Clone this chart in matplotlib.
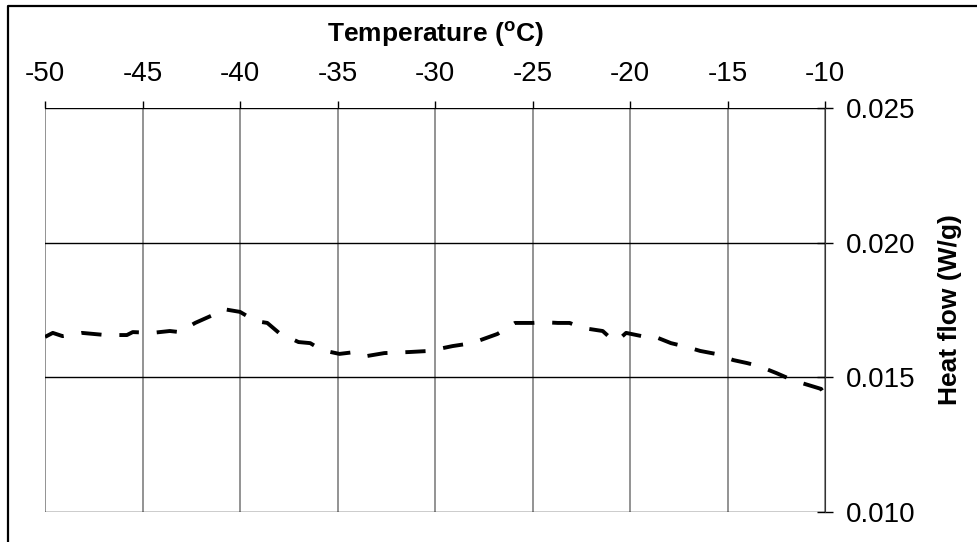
import matplotlib.pyplot as plt
from matplotlib.lines import Line2D

plt.rcParams['font.family'] = ['Liberation Sans', 'DejaVu Sans']
plt.rcParams['mathtext.fontset'] = 'custom'
plt.rcParams['mathtext.rm'] = 'Liberation Sans'
plt.rcParams['mathtext.bf'] = 'Liberation Sans:bold'
plt.rcParams['axes.unicode_minus'] = False

# DSC trace
temp = [-50.0, -49.6, -49.1, -48.1, -46.9, -45.8, -45.5, -44.5, -43.6, -43.1,
        -42.3, -41.4, -40.9, -40.0, -39.2, -38.6, -38.0, -37.0, -36.4, -35.8,
        -34.9, -34.1, -33.5, -32.6, -31.3, -30.3, -29.1, -28.1, -26.8, -25.9,
        -25.0, -24.5, -23.7, -23.1, -22.4, -21.4, -20.9, -20.6, -20.2, -19.2,
        -18.8, -17.9, -17.1, -16.4, -15.6, -14.7, -14.0, -13.4, -12.5, -11.8,
        -11.2, -10.2, -10.0]
heat_flow = [0.01650, 0.01665, 0.01653, 0.01665, 0.01657, 0.01657, 0.01668, 0.01665, 0.01672, 0.01668,
             0.01702, 0.01731, 0.01754, 0.01743, 0.01709, 0.01702, 0.01665, 0.01631, 0.01627, 0.01601,
             0.01587, 0.01594, 0.01579, 0.01590, 0.01594, 0.01598, 0.01616, 0.01627, 0.01661, 0.01702,
             0.01702, 0.01705, 0.01702, 0.01702, 0.01683, 0.01672, 0.01639, 0.01639, 0.01665, 0.01650,
             0.01653, 0.01627, 0.01613, 0.01598, 0.01587, 0.01564, 0.01553, 0.01542, 0.01516, 0.01494,
             0.01479, 0.01457, 0.01434]

x_ticks = [-50, -45, -40, -35, -30, -25, -20, -15, -10]
y_ticks = [0.010, 0.015, 0.020, 0.025]
y_tick_labels = ['0.010', '0.015', '0.020', '0.025']

fig = plt.figure(figsize=(9.77, 5.42), dpi=100)
ax = fig.add_axes([45 / 977, 30 / 542, 780 / 977, 404 / 542])

ax.plot(temp, heat_flow, color='black', lw=2.8, linestyle=(0, (5.2, 4.6)),
        dash_capstyle='butt', solid_capstyle='butt', zorder=3)

ax.set_xlim(-50, -10)
ax.set_ylim(0.010, 0.025)
ax.set_xticks(x_ticks)
ax.set_yticks(y_ticks)
ax.set_yticklabels(y_tick_labels)

ax.xaxis.tick_top()
ax.xaxis.set_label_position('top')
ax.yaxis.tick_right()
ax.yaxis.set_label_position('right')
ax.tick_params(axis='x', direction='out', length=5, width=1, labelsize=20, pad=10, color='black')
ax.tick_params(axis='y', direction='inout', length=12, width=1, labelsize=20, pad=9, color='black')

for s in ['left', 'bottom', 'top']:
    ax.spines[s].set_visible(False)
ax.spines['right'].set_color('#333333')

ax.grid(axis='x', color='#808080', lw=1.2)
ax.grid(axis='y', color='black', lw=1)
ax.set_axisbelow(True)

ax.set_xlabel(r'Temperature ($^{\mathregular{o}}$C)', fontsize=19, fontweight='bold', labelpad=14)
ax.set_ylabel('Heat flow (W/g)', fontsize=19, fontweight='bold', labelpad=16)

# outer chart border (left and top edges only, cropped on right and bottom)
bx, by = 8 / 977, 1 - 6 / 542
fig.add_artist(Line2D([bx, bx, 1], [0, by, by], color='black', lw=1.6))

fig.savefig('out.png', dpi=100)
